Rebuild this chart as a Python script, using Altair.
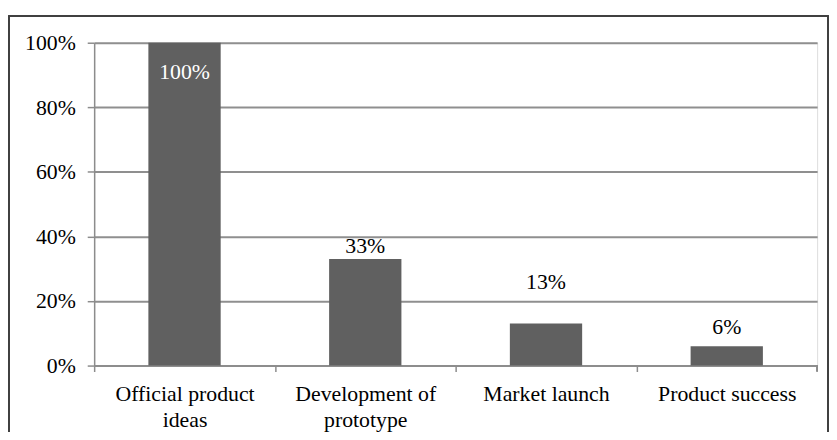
import altair as alt
import pandas as pd

categories = ["Official product ideas", "Development of prototype", "Market launch", "Product success"]
values = [1.00, 0.33, 0.13, 0.06]
labels = ["100%", "33%", "13%", "6%"]
label_pos = [0.91, 0.37, 0.26, 0.12]
label_colors = ["white", "black", "black", "black"]

df = pd.DataFrame({
    "cat": categories,
    "val": values,
    "lab": labels,
    "lpos": label_pos,
    "lcol": label_colors,
})

FONT = "Times New Roman, Liberation Serif, serif"
FS = 22
W, H = 730, 326

xscale = alt.Scale(paddingInner=0.6, paddingOuter=0.3)
yscale = alt.Scale(domain=[0, 1])

label_expr = ("datum.value == 'Official product ideas' ? ['Official product', 'ideas'] : "
              "datum.value == 'Development of prototype' ? ['Development of', 'prototype'] : datum.value")

bars = alt.Chart(df).mark_bar(color="#606060").encode(
    x=alt.X("cat:N", sort=categories, scale=xscale, title=None,
            axis=alt.Axis(labelAngle=0, labelExpr=label_expr, labelFont=FONT, labelFontSize=FS,
                          labelColor="black", labelLineHeight=27, labelPadding=12,
                          tickOffset=-91.25, labelOffset=91.25, tickSize=6, tickColor="#8c8c8c",
                          tickWidth=1.5, domainColor="#8c8c8c", domainWidth=1.5, grid=False)),
    y=alt.Y("val:Q", scale=yscale, title=None,
            axis=alt.Axis(values=[0, 0.2, 0.4, 0.6, 0.8, 1.0], format=".0%", labelFont=FONT,
                          labelFontSize=FS, labelColor="black", labelPadding=12,
                          tickSize=7, tickColor="#8c8c8c", tickWidth=1.5,
                          domainColor="#8c8c8c", domainWidth=1.5,
                          grid=True, gridColor="#8f8f8f", gridWidth=2)),
)

text = alt.Chart(df).mark_text(font=FONT, fontSize=FS, baseline="middle").encode(
    x=alt.X("cat:N", sort=categories, scale=xscale),
    y=alt.Y("lpos:Q", scale=yscale),
    text="lab:N",
    color=alt.Color("lcol:N", scale=None),
)

end_tick = alt.Chart(df).mark_rule(color="#8c8c8c", strokeWidth=1.5).encode(
    x=alt.value(W), y=alt.value(H), y2=alt.value(H + 6)
)

border = alt.Chart(df).mark_rect(fill="transparent", stroke="#404040", strokeWidth=1.5, clip=False).encode(
    x=alt.value(-86), x2=alt.value(741), y=alt.value(-27), y2=alt.value(420)
)

chart = alt.layer(border, bars, text, end_tick).properties(
    width=W, height=H,
    autosize=alt.AutoSizeParams(type="none"),
    padding={"left": 87, "top": 33, "right": 12, "bottom": 65},
).configure_view(fill="#e6e6e6", stroke="transparent").configure(background="white")

chart.save("out.html", embed_options={"renderer": "svg", "actions": False})
